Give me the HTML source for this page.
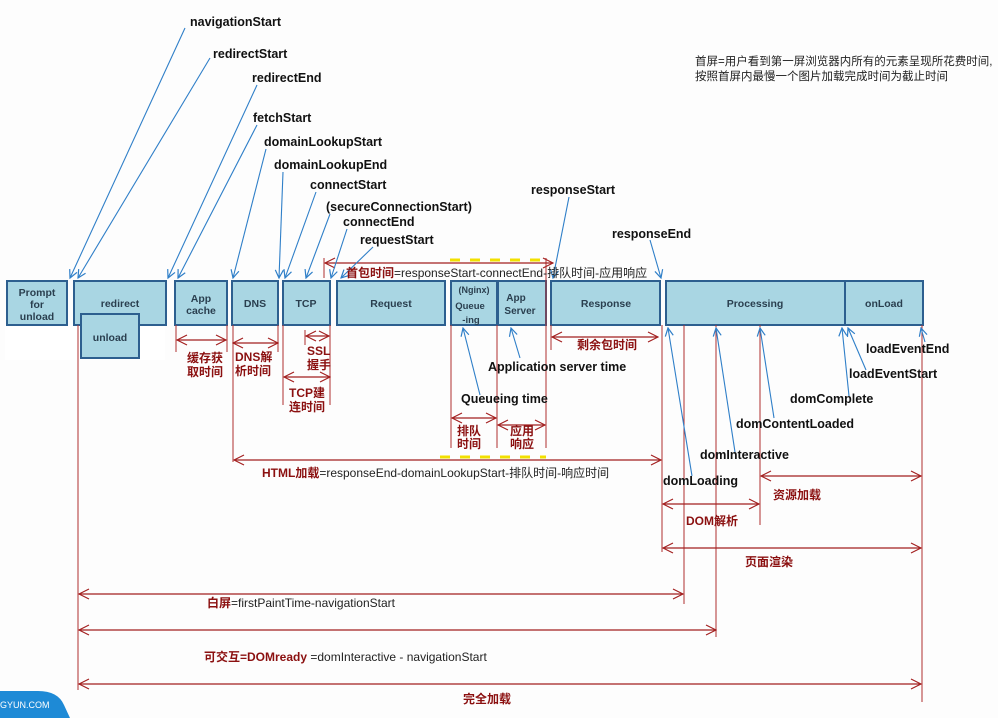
<!DOCTYPE html>
<html><head><meta charset="utf-8"><style>
html,body{margin:0;padding:0;background:#fdfdfd;}
svg{display:block;}
text{font-family:"Liberation Sans","Noto Sans CJK SC",sans-serif;}
.b{font-weight:bold;font-size:12.5px;fill:#111;}
.bx{font-weight:bold;font-size:10.5px;fill:#2a3f4f;}
.r{font-weight:bold;font-size:12px;fill:#8b1010;}
.rn{font-size:12px;fill:#222;}
</style></head><body>
<svg width="998" height="718" viewBox="0 0 998 718" xmlns="http://www.w3.org/2000/svg">
<defs>
<marker id="ba" markerWidth="10" markerHeight="10" refX="9" refY="5" orient="auto" markerUnits="userSpaceOnUse"><path d="M1,1 L9,5 L1,9" fill="none" stroke="#2f7fc8" stroke-width="1.2"/></marker>
<marker id="ra" markerWidth="12" markerHeight="12" refX="11" refY="6" orient="auto" markerUnits="userSpaceOnUse"><path d="M1,1 L11,6 L1,11" fill="none" stroke="#a32020" stroke-width="1.2"/></marker>
<marker id="rs" markerWidth="12" markerHeight="12" refX="1" refY="6" orient="auto" markerUnits="userSpaceOnUse"><path d="M11,1 L1,6 L11,11" fill="none" stroke="#a32020" stroke-width="1.2"/></marker>
</defs>
<rect x="0" y="0" width="998" height="718" fill="#fdfdfd"/>
<rect x="5" y="325" width="160" height="35" fill="#fff"/>

<g fill="#a9d6e3" stroke="#2d5f8f" stroke-width="2">
<rect x="7" y="281" width="60" height="44"/>
<rect x="74" y="281" width="92" height="44"/>
<rect x="81" y="314" width="58" height="44"/>
<rect x="175" y="281" width="52" height="44"/>
<rect x="232" y="281" width="46" height="44"/>
<rect x="283" y="281" width="47" height="44"/>
<rect x="337" y="281" width="108" height="44"/>
<rect x="451" y="281" width="46" height="44"/>
<rect x="498" y="281" width="48" height="44"/>
<rect x="551" y="281" width="109" height="44"/>
<rect x="666" y="281" width="179" height="44"/>
<rect x="845" y="281" width="78" height="44"/>
</g>
<g class="bx" text-anchor="middle">
<text x="37" y="296">Prompt</text><text x="37" y="308">for</text><text x="37" y="320">unload</text>
<text x="120" y="307">redirect</text>
<text x="110" y="341">unload</text>
<text x="201" y="302">App</text><text x="201" y="314">cache</text>
<text x="255" y="307">DNS</text>
<text x="306" y="307">TCP</text>
<text x="391" y="307">Request</text>
<text x="474" y="293" font-size="9">(Nginx)</text><text x="470" y="309" font-size="9.5">Queue</text><text x="471" y="323" font-size="9.5">-ing</text>
<text x="516" y="301" font-size="10">App</text><text x="520" y="314" font-size="10">Server</text>
<text x="606" y="307">Response</text>
<text x="755" y="307">Processing</text>
<text x="884" y="307">onLoad</text>
</g>

<g stroke="#b03030" stroke-width="1">
<line x1="78" y1="325" x2="78" y2="690"/>
<line x1="176" y1="325" x2="176" y2="352"/>
<line x1="227" y1="325" x2="227" y2="352"/>
<line x1="233" y1="325" x2="233" y2="462"/>
<line x1="278" y1="325" x2="278" y2="352"/>
<line x1="283" y1="325" x2="283" y2="405"/>
<line x1="305" y1="330" x2="305" y2="345"/>
<line x1="330" y1="325" x2="330" y2="405"/>
<line x1="324" y1="258" x2="324" y2="278"/>
<line x1="451" y1="325" x2="451" y2="448"/>
<line x1="497" y1="325" x2="497" y2="448"/>
<line x1="546" y1="258" x2="546" y2="448"/>
<line x1="551" y1="325" x2="551" y2="350"/>
<line x1="662" y1="325" x2="662" y2="552"/>
<line x1="684" y1="325" x2="684" y2="604"/>
<line x1="716" y1="325" x2="716" y2="637"/>
<line x1="760" y1="325" x2="760" y2="525"/>
<line x1="922" y1="325" x2="922" y2="702"/>
</g>
<g stroke="#a32020" stroke-width="1.2" marker-start="url(#rs)" marker-end="url(#ra)">
<line x1="177" y1="340" x2="226" y2="340"/>
<line x1="233" y1="343" x2="278" y2="343"/>
<line x1="306" y1="336" x2="329" y2="336"/>
<line x1="284" y1="377" x2="330" y2="377"/>
<line x1="452" y1="418" x2="496" y2="418"/>
<line x1="498" y1="425" x2="545" y2="425"/>
<line x1="552" y1="337" x2="658" y2="337"/>
<line x1="325" y1="263" x2="553" y2="263"/>
<line x1="234" y1="460" x2="661" y2="460"/>
<line x1="761" y1="476" x2="921" y2="476"/>
<line x1="663" y1="504" x2="759" y2="504"/>
<line x1="663" y1="548" x2="921" y2="548"/>
<line x1="79" y1="594" x2="683" y2="594"/>
<line x1="79" y1="630" x2="716" y2="630"/>
<line x1="79" y1="684" x2="921" y2="684"/>
</g>
<g stroke="#f2e000" stroke-width="3" stroke-dasharray="10,10">
<line x1="450" y1="260" x2="545" y2="260"/>
<line x1="440" y1="457" x2="546" y2="457"/>
</g>

<g stroke="#2f7fc8" stroke-width="1.1" marker-end="url(#ba)">
<line x1="185" y1="28" x2="70" y2="278"/>
<line x1="210" y1="58" x2="78" y2="278"/>
<line x1="257" y1="85" x2="168" y2="278"/>
<line x1="257" y1="125" x2="178" y2="278"/>
<line x1="266" y1="149" x2="233" y2="278"/>
<line x1="283" y1="172" x2="279" y2="278"/>
<line x1="316" y1="192" x2="285" y2="278"/>
<line x1="330" y1="214" x2="306" y2="278"/>
<line x1="347" y1="229" x2="331" y2="278"/>
<line x1="373" y1="247" x2="341" y2="278"/>
<line x1="569" y1="197" x2="553" y2="278"/>
<line x1="650" y1="240" x2="661" y2="278"/>
<line x1="480" y1="395" x2="463" y2="328"/>
<line x1="520" y1="358" x2="511" y2="328"/>
<line x1="692" y1="476" x2="668" y2="328"/>
<line x1="735" y1="452" x2="716" y2="328"/>
<line x1="774" y1="418" x2="760" y2="328"/>
<line x1="849" y1="396" x2="842" y2="328"/>
<line x1="866" y1="370" x2="848" y2="328"/>
<line x1="925" y1="342" x2="921" y2="328"/>
</g>

<g class="b">
<text x="190" y="26">navigationStart</text>
<text x="213" y="58">redirectStart</text>
<text x="252" y="82">redirectEnd</text>
<text x="253" y="122">fetchStart</text>
<text x="264" y="146">domainLookupStart</text>
<text x="274" y="169">domainLookupEnd</text>
<text x="310" y="189">connectStart</text>
<text x="326" y="211">(secureConnectionStart)</text>
<text x="343" y="226">connectEnd</text>
<text x="360" y="244">requestStart</text>
<text x="531" y="194">responseStart</text>
<text x="612" y="238">responseEnd</text>
<text x="488" y="371">Application server time</text>
<text x="461" y="403">Queueing time</text>
<text x="866" y="353">loadEventEnd</text>
<text x="849" y="378">loadEventStart</text>
<text x="790" y="403">domComplete</text>
<text x="736" y="428">domContentLoaded</text>
<text x="700" y="459">domInteractive</text>
<text x="663" y="485">domLoading</text>
</g>

<g class="r">
<text x="187" y="362">缓存获</text><text x="187" y="376">取时间</text>
<text x="235" y="361">DNS解</text><text x="235" y="375">析时间</text>
<text x="307" y="355">SSL</text><text x="307" y="369">握手</text>
<text x="289" y="397">TCP建</text><text x="289" y="411">连时间</text>
<text x="457" y="435">排队</text><text x="457" y="448">时间</text>
<text x="510" y="435">应用</text><text x="510" y="448">响应</text>
<text x="577" y="349">剩余包时间</text>
<text x="773" y="499">资源加载</text>
<text x="686" y="525">DOM解析</text>
<text x="745" y="566">页面渲染</text>
<text x="463" y="703">完全加载</text>
</g>
<text x="346" y="277" class="rn"><tspan class="r">首包时间</tspan>=responseStart-connectEnd-排队时间-应用响应</text>
<text x="262" y="477" class="rn"><tspan class="r">HTML加载</tspan>=responseEnd-domainLookupStart-排队时间-响应时间</text>
<text x="207" y="607" class="rn"><tspan class="r">白屏</tspan>=firstPaintTime-navigationStart</text>
<text x="204" y="661" class="rn"><tspan class="r">可交互=DOMready</tspan> =domInteractive - navigationStart</text>

<text x="695" y="65" font-size="11.5" fill="#222">首屏=用户看到第一屏浏览器内所有的元素呈现所花费时间,</text>
<text x="695" y="80" font-size="11.5" fill="#222">按照首屏内最慢一个图片加载完成时间为截止时间</text>

<path d="M0,691 L38,691 Q58,691 64,705 L70,718 L0,718 Z" fill="#1e8ad6"/>
<text x="0" y="708" font-size="9" fill="#fff">GYUN.COM</text>
</svg>
</body></html>
